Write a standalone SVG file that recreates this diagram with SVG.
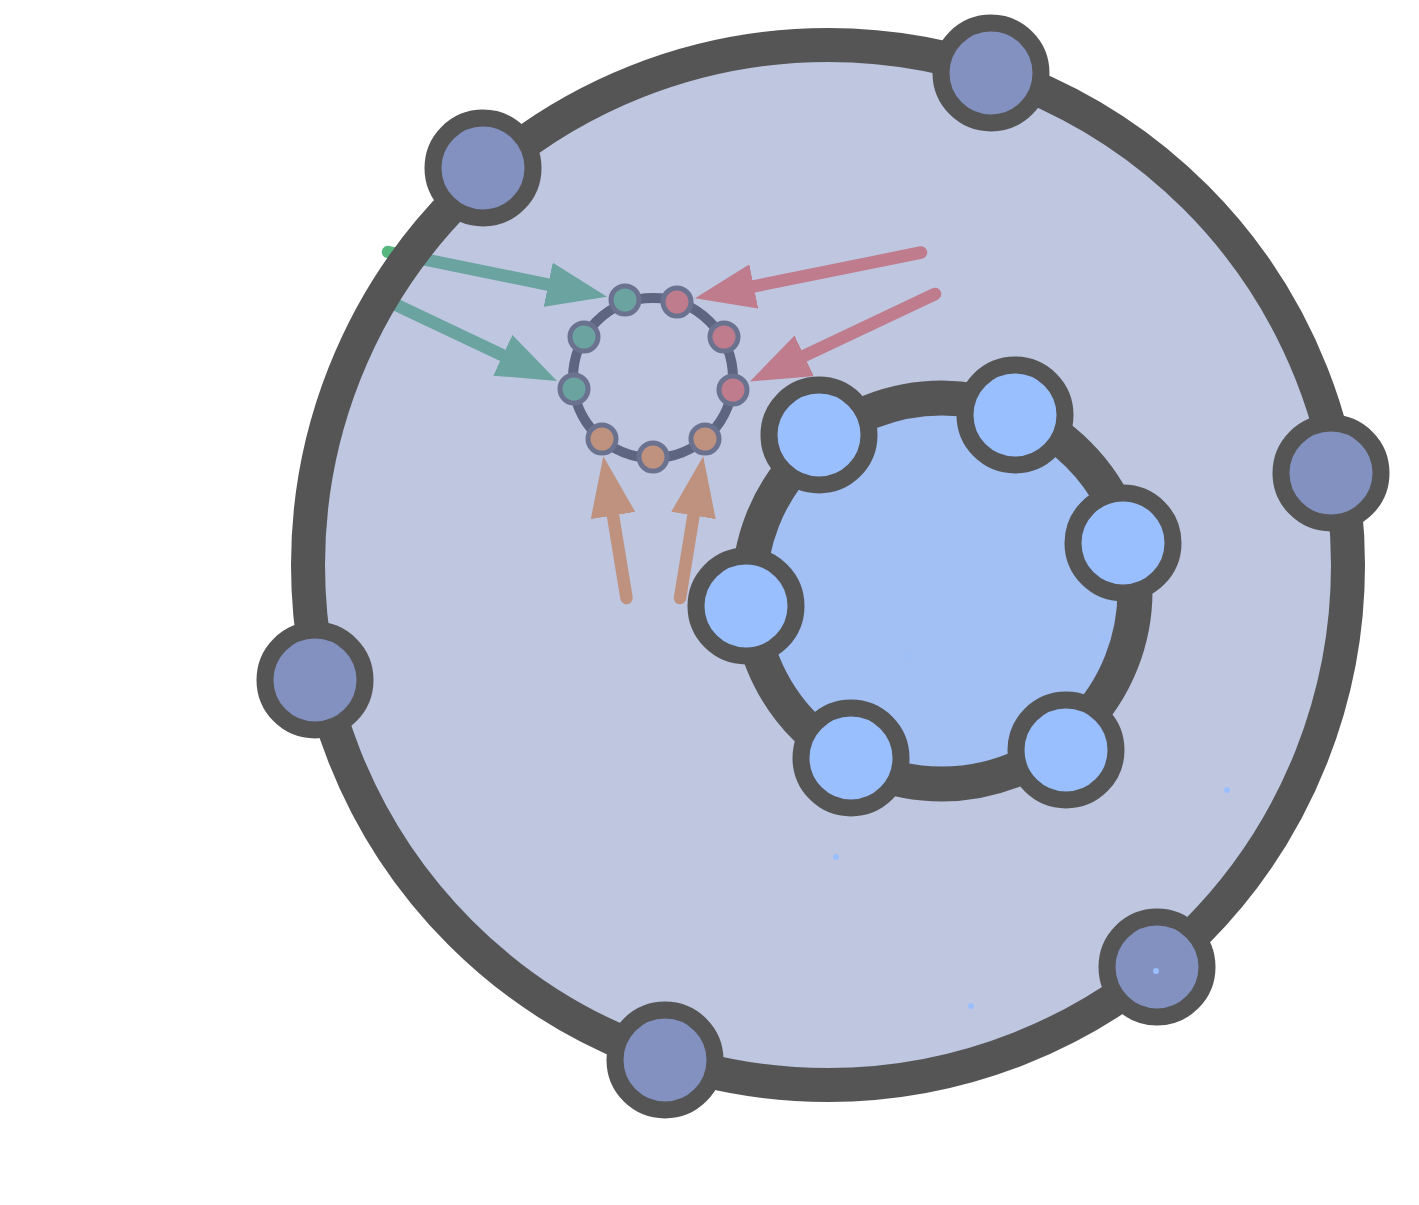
<svg xmlns="http://www.w3.org/2000/svg" width="1419" height="1205" viewBox="0 0 1419 1205">
  <defs>
    <style>
      .conn { fill: none; stroke-width: 12.5; stroke-linecap: round; }
      .teal { stroke: #56B87F; }
      .red { stroke: #FF6A59; }
      .orange { stroke: #FF963B; }
      .ring { fill: none; stroke: #3E3C3F; stroke-width: 10; }
      .port { stroke: #56565D; stroke-width: 5; }
      .pt { fill: #56B87F; }
      .pr { fill: #FF6A59; }
      .po { fill: #FF963B; }
      .outer { fill: #7E8EC1; fill-opacity: 0.5; stroke: #555555; stroke-width: 34; }
      .inner { fill: #A2C0F4; stroke: #555555; stroke-width: 35; }
      .onode { fill: #8391C0; stroke: #555555; stroke-width: 17; }
      .inode { fill: #99BFFF; stroke: #555555; stroke-width: 17; }
      .dot { fill: #99BFFF; }
    </style>
    <marker id="mTeal" markerUnits="userSpaceOnUse" viewBox="0 0 60 45" refX="0" refY="22.5" markerWidth="60" markerHeight="45" orient="auto">
      <path d="M0,0 L60,22.5 L0,45 z" fill="#56B87F"/>
    </marker>
    <marker id="mRed" markerUnits="userSpaceOnUse" viewBox="0 0 60 45" refX="0" refY="22.5" markerWidth="60" markerHeight="45" orient="auto">
      <path d="M0,0 L60,22.5 L0,45 z" fill="#FF6A59"/>
    </marker>
    <marker id="mOrange" markerUnits="userSpaceOnUse" viewBox="0 0 60 45" refX="0" refY="22.5" markerWidth="60" markerHeight="45" orient="auto">
      <path d="M0,0 L60,22.5 L0,45 z" fill="#FF963B"/>
    </marker>
  </defs>

  <g id="connectors">
    <line class="conn teal" x1="388" y1="252" x2="548.2" y2="284.7" marker-end="url(#mTeal)"/>
    <line class="conn teal" x1="388" y1="301" x2="502.8" y2="355.3" marker-end="url(#mTeal)"/>
    <line class="conn red" x1="921" y1="252.5" x2="753.8" y2="286.4" marker-end="url(#mRed)"/>
    <line class="conn red" x1="935" y1="294" x2="804.2" y2="355.8" marker-end="url(#mRed)"/>
    <line class="conn orange" x1="626.5" y1="598" x2="613" y2="515.5" marker-end="url(#mOrange)"/>
    <line class="conn orange" x1="680" y1="598" x2="693.5" y2="515.5" marker-end="url(#mOrange)"/>
  </g>

  <g id="port-ring">
    <circle class="ring" cx="653" cy="378" r="80"/>
  </g>
  <g id="port-t1"><circle class="port pt" cx="625" cy="300" r="14"/></g>
  <g id="port-t2"><circle class="port pt" cx="584" cy="337" r="14"/></g>
  <g id="port-t3"><circle class="port pt" cx="574" cy="389" r="14"/></g>
  <g id="port-r1"><circle class="port pr" cx="677" cy="302" r="14"/></g>
  <g id="port-r2"><circle class="port pr" cx="724" cy="337" r="14"/></g>
  <g id="port-r3"><circle class="port pr" cx="733" cy="390" r="14"/></g>
  <g id="port-o1"><circle class="port po" cx="602" cy="439" r="14"/></g>
  <g id="port-o2"><circle class="port po" cx="653" cy="457" r="14"/></g>
  <g id="port-o3"><circle class="port po" cx="705" cy="439" r="14"/></g>

  <g id="outer-cell">
    <circle class="outer" cx="828" cy="565" r="520"/>
  </g>

  <g id="inner-cell">
    <circle class="inner" cx="942" cy="591" r="193"/>
  </g>

  <g id="faint-dots">
    <circle class="dot" cx="909" cy="656" r="3" opacity="0.35"/>
    <circle class="dot" cx="1105" cy="637" r="3" opacity="0.35"/>
  </g>

  <g id="outer-node-1"><circle class="onode" cx="483" cy="168" r="50"/></g>
  <g id="outer-node-2"><circle class="onode" cx="991" cy="73" r="50"/></g>
  <g id="outer-node-3"><circle class="onode" cx="1331" cy="473" r="50"/></g>
  <g id="outer-node-4"><circle class="onode" cx="1157" cy="967" r="50"/></g>
  <g id="outer-node-5"><circle class="onode" cx="665" cy="1060" r="50"/></g>
  <g id="outer-node-6"><circle class="onode" cx="315" cy="680" r="50"/></g>

  <g id="inner-node-1"><circle class="inode" cx="819" cy="435" r="50"/></g>
  <g id="inner-node-2"><circle class="inode" cx="1015" cy="415" r="50"/></g>
  <g id="inner-node-3"><circle class="inode" cx="1123" cy="543" r="50"/></g>
  <g id="inner-node-4"><circle class="inode" cx="1066" cy="750" r="50"/></g>
  <g id="inner-node-5"><circle class="inode" cx="851" cy="758" r="50"/></g>
  <g id="inner-node-6"><circle class="inode" cx="746" cy="606" r="50"/></g>

  <g id="dots">
    <circle class="dot" cx="1227" cy="790" r="3"/>
    <circle class="dot" cx="836" cy="857" r="3"/>
    <circle class="dot" cx="971" cy="1006" r="3"/>
    <circle class="dot" cx="1156" cy="971" r="3"/>
  </g>
</svg>
